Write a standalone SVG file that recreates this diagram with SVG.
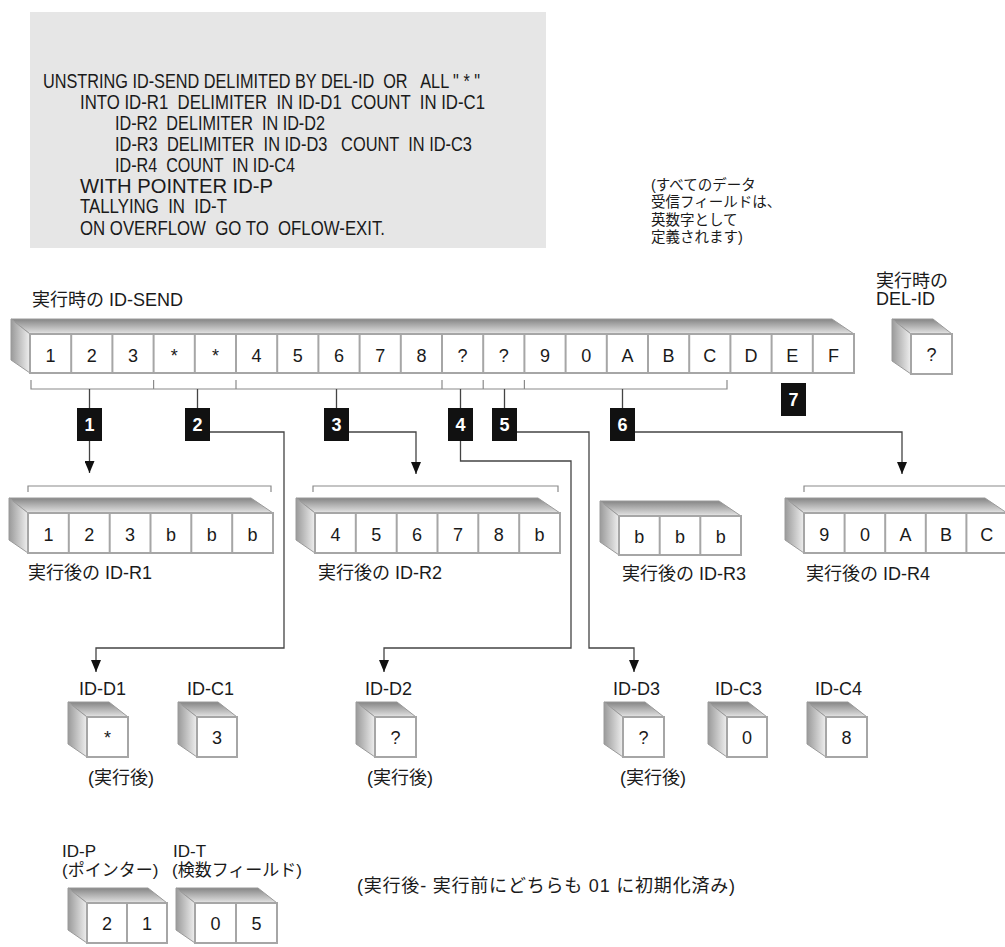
<svg xmlns="http://www.w3.org/2000/svg" width="1005" height="947" viewBox="0 0 1005 947">
<defs>
<linearGradient id="gTop" x1="0" y1="0" x2="0" y2="1"><stop offset="0" stop-color="#858585"/><stop offset="0.85" stop-color="#d6d6d6"/><stop offset="1" stop-color="#ececec"/></linearGradient>
<linearGradient id="gSide" x1="0" y1="0" x2="1" y2="0"><stop offset="0" stop-color="#9a9a9a"/><stop offset="1" stop-color="#efefef"/></linearGradient>
<marker id="arr" viewBox="0 0 12 10" refX="12" refY="5" markerWidth="12" markerHeight="10" markerUnits="userSpaceOnUse" orient="auto"><path d="M0,0 L12,5 L0,10 z" fill="#111"/></marker>
</defs>
<style>
text{font-family:"Liberation Sans","Noto Sans CJK JP",sans-serif;fill:#1a1a1a}
.lbl{font-size:18px}
.sm{font-size:17px}
.cell{font-size:18px;text-anchor:middle}
.code{font-size:19.5px;white-space:pre}
.note{font-size:14.5px}
.top{fill:url(#gTop);stroke:#9a9a9a;stroke-width:1}
.side{fill:url(#gSide);stroke:#9a9a9a;stroke-width:1}
.front{fill:#fff;stroke:#a6a6a6;stroke-width:2}
.sep{stroke:#a6a6a6;stroke-width:2}
.badge rect{fill:#111}
.badge text{fill:#fff;font-weight:bold;font-size:18px;text-anchor:middle}
.br{fill:none;stroke:#8a8a8a;stroke-width:1.2}
.cn{fill:none;stroke:#444;stroke-width:1.3}
</style>
<rect width="1005" height="947" fill="#fff"/>

<g id="code">
<rect x="30" y="12" width="516" height="236" fill="#e6e6e6"/>
<text class="code" xml:space="preserve" x="43" y="88" textLength="437" lengthAdjust="spacingAndGlyphs">UNSTRING ID-SEND DELIMITED BY DEL-ID  OR   ALL " * "</text>
<text class="code" xml:space="preserve" x="80" y="109" textLength="405" lengthAdjust="spacingAndGlyphs">INTO ID-R1  DELIMITER  IN ID-D1  COUNT  IN ID-C1</text>
<text class="code" xml:space="preserve" x="115" y="130" textLength="210" lengthAdjust="spacingAndGlyphs">ID-R2  DELIMITER  IN ID-D2</text>
<text class="code" xml:space="preserve" x="115" y="151" textLength="357" lengthAdjust="spacingAndGlyphs">ID-R3  DELIMITER  IN ID-D3   COUNT  IN ID-C3</text>
<text class="code" xml:space="preserve" x="115" y="172" textLength="180" lengthAdjust="spacingAndGlyphs">ID-R4  COUNT  IN ID-C4</text>
<text class="code" xml:space="preserve" x="80" y="193" textLength="193" lengthAdjust="spacingAndGlyphs">WITH POINTER ID-P</text>
<text class="code" xml:space="preserve" x="80" y="213" textLength="147" lengthAdjust="spacingAndGlyphs">TALLYING  IN  ID-T</text>
<text class="code" xml:space="preserve" x="80" y="235" textLength="305" lengthAdjust="spacingAndGlyphs">ON OVERFLOW  GO TO  OFLOW-EXIT.</text>
</g>

<g id="note">
<text class="note" x="651" y="190">(すべてのデータ</text>
<text class="note" x="651" y="207">受信フィールドは、</text>
<text class="note" x="651" y="225">英数字として</text>
<text class="note" x="651" y="242">定義されます)</text>
</g>

<g id="id-send">
<text class="lbl" x="32" y="306">実行時の ID-SEND</text>
<polygon class="top" points="11,319 832,319 854,334 30,334"/>
<polygon class="side" points="11,319 30,334 30,373 11,360"/>
<rect class="front" x="30" y="334" width="824" height="39"/>
<path class="sep" d="M71.2,334V373M112.4,334V373M153.6,334V373M194.8,334V373M236,334V373M277.2,334V373M318.4,334V373M359.6,334V373M400.8,334V373M442,334V373M483.2,334V373M524.4,334V373M565.6,334V373M606.8,334V373M648,334V373M689.2,334V373M730.4,334V373M771.6,334V373M812.8,334V373"/>
<text class="cell" x="50.6" y="362">1</text><text class="cell" x="91.8" y="362">2</text><text class="cell" x="133" y="362">3</text><text class="cell" x="174.2" y="362">*</text><text class="cell" x="215.4" y="362">*</text><text class="cell" x="256.6" y="362">4</text><text class="cell" x="297.8" y="362">5</text><text class="cell" x="339" y="362">6</text><text class="cell" x="380.2" y="362">7</text><text class="cell" x="421.4" y="362">8</text><text class="cell" x="462.6" y="362">?</text><text class="cell" x="503.8" y="362">?</text><text class="cell" x="545" y="362">9</text><text class="cell" x="586.2" y="362">0</text><text class="cell" x="627.4" y="362">A</text><text class="cell" x="668.6" y="362">B</text><text class="cell" x="709.8" y="362">C</text><text class="cell" x="751" y="362">D</text><text class="cell" x="792.2" y="362">E</text><text class="cell" x="833.4" y="362">F</text>
</g>

<g id="del-id">
<text class="lbl" x="876" y="287">実行時の</text>
<text class="lbl" x="876" y="305">DEL-ID</text>
<polygon class="top" points="892,319 933,319 952,334 911,334"/>
<polygon class="side" points="892,319 911,334 911,374 892,361"/>
<rect class="front" x="911" y="334" width="41" height="40"/>
<text class="cell" x="931.5" y="361">?</text>
</g>

<g id="badges">
<g class="badge"><rect x="77" y="408" width="25" height="33"/><text x="89.5" y="431">1</text></g>
<g class="badge"><rect x="185" y="408" width="25" height="33"/><text x="197.5" y="431">2</text></g>
<g class="badge"><rect x="324" y="408" width="25" height="33"/><text x="336.5" y="431">3</text></g>
<g class="badge"><rect x="448" y="408" width="25" height="33"/><text x="460.5" y="431">4</text></g>
<g class="badge"><rect x="492" y="408" width="25" height="33"/><text x="504.5" y="431">5</text></g>
<g class="badge"><rect x="610" y="408" width="25" height="33"/><text x="622.5" y="431">6</text></g>
<g class="badge"><rect x="781" y="383" width="25" height="33"/><text x="793.5" y="406">7</text></g>
</g>

<g id="id-r1">
<polygon class="top" points="9,498 251,498 273,513 28,513"/>
<polygon class="side" points="9,498 28,513 28,553 9,540"/>
<rect class="front" x="28" y="513" width="245" height="40"/>
<path class="sep" d="M68.8,513V553M109.7,513V553M150.5,513V553M191.3,513V553M232.2,513V553"/>
<text class="cell" x="48.4" y="541">1</text><text class="cell" x="89.3" y="541">2</text><text class="cell" x="130.1" y="541">3</text><text class="cell" x="170.9" y="541">b</text><text class="cell" x="211.8" y="541">b</text><text class="cell" x="252.6" y="541">b</text>
<text class="lbl" x="28" y="579">実行後の ID-R1</text>
</g>

<g id="id-r2">
<polygon class="top" points="296,498 538,498 560,513 315,513"/>
<polygon class="side" points="296,498 315,513 315,553 296,540"/>
<rect class="front" x="315" y="513" width="245" height="40"/>
<path class="sep" d="M355.8,513V553M396.7,513V553M437.5,513V553M478.3,513V553M519.2,513V553"/>
<text class="cell" x="335.4" y="541">4</text><text class="cell" x="376.3" y="541">5</text><text class="cell" x="417.1" y="541">6</text><text class="cell" x="457.9" y="541">7</text><text class="cell" x="498.8" y="541">8</text><text class="cell" x="539.6" y="541">b</text>
<text class="lbl" x="318" y="579">実行後の ID-R2</text>
</g>

<g id="id-r3">
<polygon class="top" points="600,501 719,501 741,516 619,516"/>
<polygon class="side" points="600,501 619,516 619,555 600,542"/>
<rect class="front" x="619" y="516" width="122" height="39"/>
<path class="sep" d="M659.7,516V555M700.3,516V555"/>
<text class="cell" x="639.3" y="543">b</text><text class="cell" x="680" y="543">b</text><text class="cell" x="720.7" y="543">b</text>
<text class="lbl" x="622" y="580">実行後の ID-R3</text>
</g>

<g id="id-r4">
<polygon class="top" points="785,498 985,498 1007,513 804,513"/>
<polygon class="side" points="785,498 804,513 804,553 785,540"/>
<rect class="front" x="804" y="513" width="203" height="40"/>
<path class="sep" d="M844.6,513V553M885.2,513V553M925.8,513V553M966.4,513V553"/>
<text class="cell" x="824.3" y="541">9</text><text class="cell" x="864.9" y="541">0</text><text class="cell" x="905.5" y="541">A</text><text class="cell" x="946.1" y="541">B</text><text class="cell" x="986.7" y="541">C</text>
<text class="lbl" x="806" y="580">実行後の ID-R4</text>
</g>

<g id="id-d1">
<text class="lbl" x="79" y="695">ID-D1</text>
<polygon class="top" points="68,702 109,702 128,717 87,717"/>
<polygon class="side" points="68,702 87,717 87,757 68,744"/>
<rect class="front" x="87" y="717" width="41" height="40"/>
<text class="cell" x="107.5" y="744">*</text>
<text class="lbl" x="88" y="784">(実行後)</text>
</g>

<g id="id-c1">
<text class="lbl" x="187" y="695">ID-C1</text>
<polygon class="top" points="178,702 218,702 237,717 197,717"/>
<polygon class="side" points="178,702 197,717 197,757 178,744"/>
<rect class="front" x="197" y="717" width="40" height="40"/>
<text class="cell" x="217" y="744">3</text>
</g>

<g id="id-d2">
<text class="lbl" x="365" y="695">ID-D2</text>
<polygon class="top" points="356,702 397,702 416,717 375,717"/>
<polygon class="side" points="356,702 375,717 375,757 356,744"/>
<rect class="front" x="375" y="717" width="41" height="40"/>
<text class="cell" x="395.5" y="744">?</text>
<text class="lbl" x="367" y="784">(実行後)</text>
</g>

<g id="id-d3">
<text class="lbl" x="613" y="695">ID-D3</text>
<polygon class="top" points="604,702 645,702 664,717 623,717"/>
<polygon class="side" points="604,702 623,717 623,757 604,744"/>
<rect class="front" x="623" y="717" width="41" height="40"/>
<text class="cell" x="643.5" y="744">?</text>
<text class="lbl" x="620" y="784">(実行後)</text>
</g>

<g id="id-c3">
<text class="lbl" x="715" y="695">ID-C3</text>
<polygon class="top" points="708,702 748,702 767,717 727,717"/>
<polygon class="side" points="708,702 727,717 727,757 708,744"/>
<rect class="front" x="727" y="717" width="40" height="40"/>
<text class="cell" x="747" y="744">0</text>
</g>

<g id="id-c4">
<text class="lbl" x="815" y="695">ID-C4</text>
<polygon class="top" points="807,702 848,702 867,717 826,717"/>
<polygon class="side" points="807,702 826,717 826,757 807,744"/>
<rect class="front" x="826" y="717" width="41" height="40"/>
<text class="cell" x="846.5" y="744">8</text>
</g>

<g id="id-p">
<text class="sm" x="62" y="857">ID-P</text>
<text class="sm" x="62" y="876">(ポインター)</text>
<polygon class="top" points="68,888 148,888 167,903 87,903"/>
<polygon class="side" points="68,888 87,903 87,943 68,930"/>
<rect class="front" x="87" y="903" width="80" height="40"/>
<path class="sep" d="M127,903V943"/>
<text class="cell" x="107" y="930">2</text><text class="cell" x="147" y="930">1</text>
</g>

<g id="id-t">
<text class="sm" x="173" y="857">ID-T</text>
<text class="sm" x="172" y="876">(検数フィールド)</text>
<polygon class="top" points="176,888 258,888 277,903 195,903"/>
<polygon class="side" points="176,888 195,903 195,943 176,930"/>
<rect class="front" x="195" y="903" width="82" height="40"/>
<path class="sep" d="M236,903V943"/>
<text class="cell" x="215.5" y="930">0</text><text class="cell" x="256.5" y="930">5</text>
</g>

<g id="footnote">
<text class="lbl" x="357" y="892" textLength="378" lengthAdjust="spacing">(実行後- 実行前にどちらも 01 に初期化済み)</text>
</g>

<g id="connectors">
<path class="br" d="M31,380V389H727V380M153.6,380V389M236,380V389M442,380V389M483.2,380V389M524.4,380V389"/>
<path class="br" d="M28,492V486H271V492M313,492V486H558V492M804,492V486H1010"/>
<path class="cn" d="M89.5,389V408M197.5,389V408M336.5,389V408M460.5,389V408M504.5,389V408M622.5,389V408"/>
<path class="cn" marker-end="url(#arr)" d="M89.5,441V473"/>
<path class="cn" marker-end="url(#arr)" d="M210,432H284V648H96V672"/>
<path class="cn" marker-end="url(#arr)" d="M349,432H416V474"/>
<path class="cn" marker-end="url(#arr)" d="M460.5,441V461H571V648H384V672"/>
<path class="cn" marker-end="url(#arr)" d="M517,432H589V648H634V672"/>
<path class="cn" marker-end="url(#arr)" d="M635,432H902V474"/>
</g>
</svg>
